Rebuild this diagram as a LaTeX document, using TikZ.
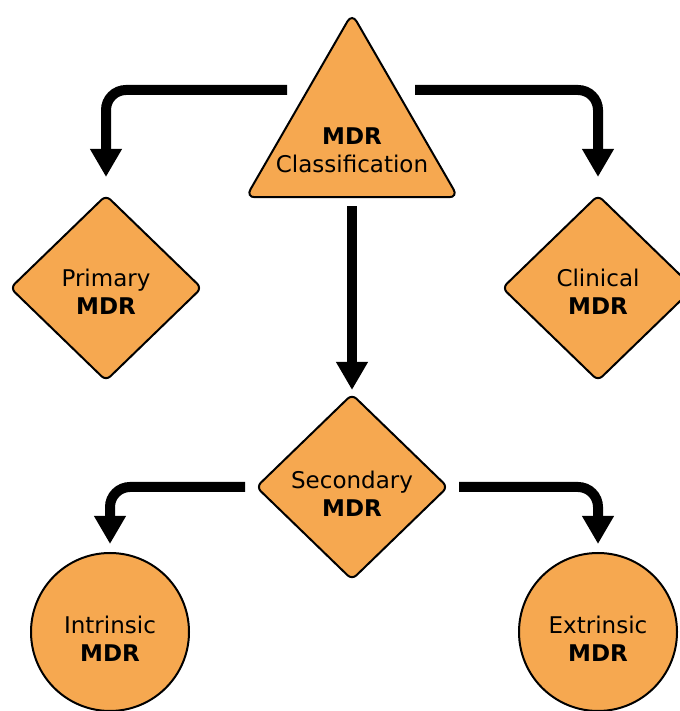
\documentclass[tikz,border=0pt]{standalone}
\usepackage{fontspec}
\setmainfont{DejaVu Sans}
\usetikzlibrary{arrows.meta, shapes.geometric}
\definecolor{mdrorange}{RGB}{246,168,80}
\newcommand\topstrut[1]{\rule{0pt}{#1}}

\begin{document}
\begin{tikzpicture}[x=1pt, y=1pt,
  txt/.style={font=\fontsize{23}{28}\selectfont, align=center},
  box/.style={txt, draw=black, line width=2pt, fill=mdrorange, rounded corners=6pt, inner sep=0pt},
  tri/.style={box, regular polygon, regular polygon sides=3, minimum size=245pt, rounded corners=9pt},
  dia/.style={box, diamond, minimum width=192pt, minimum height=186pt},
  disc/.style={box, circle, minimum size=158pt},
  flow/.style={line width=10pt, rounded corners=20pt, -{Triangle[width=30pt, length=28pt]}}]
  \useasboundingbox (0,0) rectangle (679,711);

  \node[tri] (cls) at (352,575) {};
  \node[txt] (clstext) at (352,561) {\textbf{MDR}\\Classification};

  \node[dia] (prim) at (106,423) {\topstrut{25pt}Primary\\\textbf{MDR}};
  \node[dia] (clin) at (598,423) {\topstrut{25pt}Clinical\\\textbf{MDR}};
  \node[dia] (sec) at (352,224) {\topstrut{32pt}Secondary\\\textbf{MDR}};

  \node[disc] (intr) at (110,79) {\topstrut{32pt}Intrinsic\\\textbf{MDR}};
  \node[disc] (extr) at (598,79) {\topstrut{32pt}Extrinsic\\\textbf{MDR}};

  \coordinate (cls-l) at (287,621);
  \coordinate (cls-r) at (415,621);

  \draw[flow, shorten >=17pt] (cls-l) -| (prim);
  \draw[flow, shorten >=17pt] (cls-r) -| (clin);
  \draw[flow, sharp corners, shorten <=8pt, shorten >=3pt] (cls) -- (sec);
  \draw[flow, shorten <=10pt, shorten >=8pt] (sec.west) -| (intr);
  \draw[flow, shorten <=10pt, shorten >=8pt] (sec.east) -| (extr);
\end{tikzpicture}
\end{document}
